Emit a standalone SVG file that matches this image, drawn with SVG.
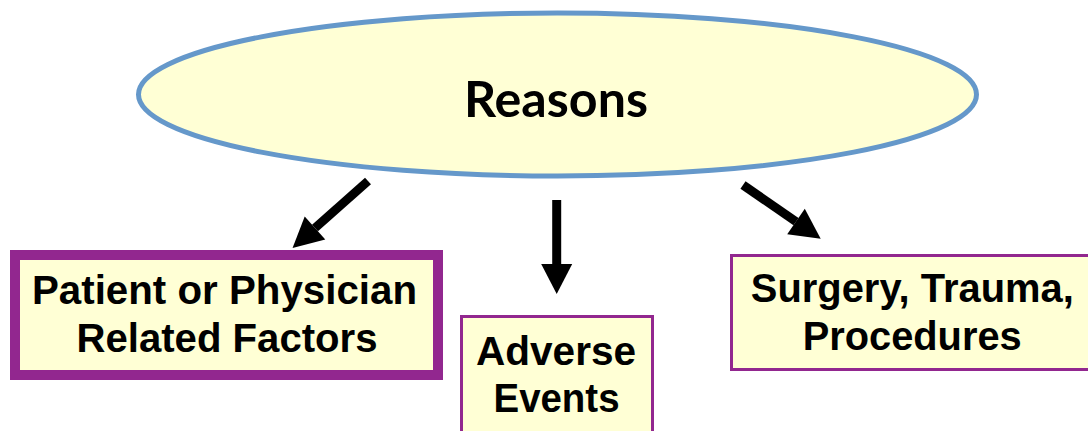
<svg xmlns="http://www.w3.org/2000/svg" width="1088" height="431" viewBox="0 0 1088 431">
<style>
.box{fill:#FFFFD5;stroke:#92278F}
.t{font-family:"Liberation Sans",Arial,sans-serif;font-weight:bold;font-size:40px;fill:#000;text-anchor:middle}
.arr{stroke:#000;stroke-width:9;fill:none;stroke-linecap:butt}
</style>
<defs>
<marker id="ah" markerUnits="userSpaceOnUse" markerWidth="31" markerHeight="31" refX="0" refY="15.5" orient="auto" overflow="visible">
<path d="M0,0 L30,15.5 L0,31 Z" fill="#000"/>
</marker>
</defs>
<rect width="1088" height="431" fill="#fff"/>
<g id="reasons">
<ellipse cx="557.5" cy="94.5" rx="419" ry="81.5" fill="#FFFFD5" stroke="#6598CA" stroke-width="5"/>
<text x="556" y="117" font-family="Lato,'Open Sans',sans-serif" font-weight="bold" font-size="50" text-anchor="middle" textLength="184" lengthAdjust="spacingAndGlyphs">Reasons</text>
</g>
<g id="connectors">
<line class="arr" x1="368" y1="181" x2="315" y2="228" marker-end="url(#ah)"/>
<line class="arr" x1="556.7" y1="200" x2="556.7" y2="264" marker-end="url(#ah)"/>
<line class="arr" x1="743" y1="185" x2="796" y2="221.6" marker-end="url(#ah)"/>
</g>
<g id="patient">
<rect class="box" x="15" y="255" width="423" height="120" stroke-width="10"/>
<text class="t" x="224.5" y="304" textLength="385" lengthAdjust="spacingAndGlyphs">Patient or Physician</text>
<text class="t" x="227" y="352" textLength="301" lengthAdjust="spacingAndGlyphs">Related Factors</text>
</g>
<g id="adverse">
<rect class="box" x="461.5" y="316.5" width="191" height="120" stroke-width="3"/>
<text class="t" x="556" y="365" textLength="160" lengthAdjust="spacingAndGlyphs">Adverse</text>
<text class="t" x="556.5" y="412" textLength="126" lengthAdjust="spacingAndGlyphs">Events</text>
</g>
<g id="surgery">
<rect class="box" x="731.5" y="255.5" width="362" height="114" stroke-width="3"/>
<text class="t" x="912.3" y="302" textLength="323" lengthAdjust="spacingAndGlyphs">Surgery, Trauma,</text>
<text class="t" x="912.2" y="350" textLength="219" lengthAdjust="spacingAndGlyphs">Procedures</text>
</g>
</svg>
